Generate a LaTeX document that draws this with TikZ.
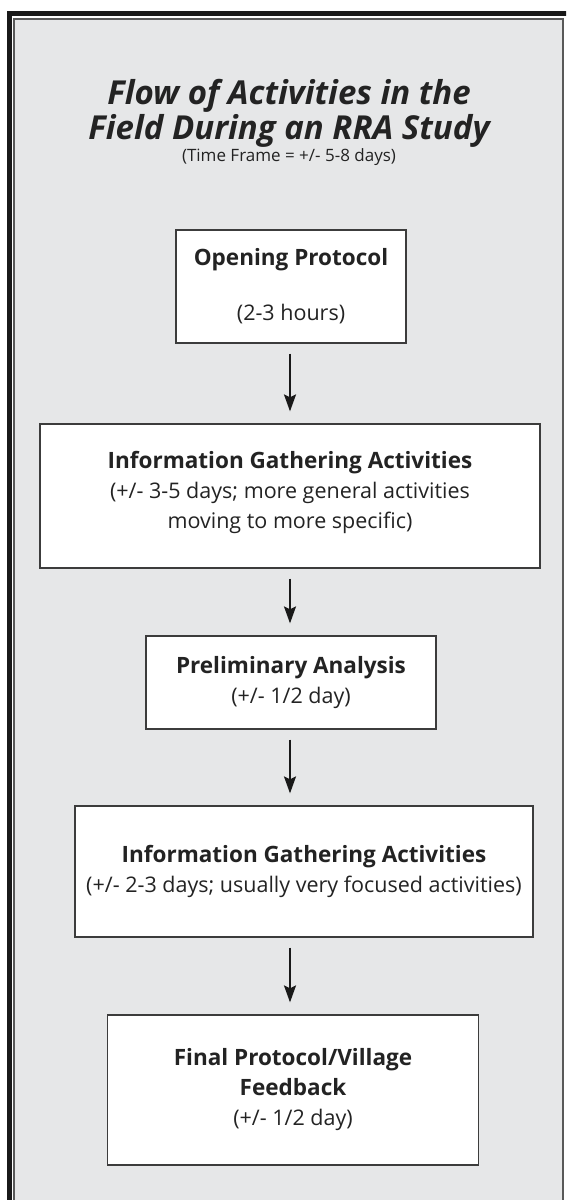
\documentclass[tikz,border=0pt]{standalone}
\usepackage{fontspec}
\setmainfont{Open Sans}
\usepackage{xcolor}
\usetikzlibrary{arrows.meta}
\definecolor{panelgray}{HTML}{E6E7E8}
\definecolor{boxline}{HTML}{3C3C3C}
\definecolor{inkgray}{HTML}{232323}
\newcommand\stagehead[1]{{\fontsize{22.5}{30}\selectfont\bfseries #1}}
\tikzset{%
  tipA/.tip={Stealth[length=17pt,width=12pt,inset=3pt]},
  stagebox/.style={draw=boxline, line width=1.2pt, fill=white, align=center,
    inner sep=0pt, text=inkgray, font=\fontsize{21.5}{30}\selectfont},
  flow/.style={line width=2.2pt, -tipA, shorten <=10pt, shorten >=12pt, draw=black!90}
}

\begin{document}
\begin{tikzpicture}[x=1pt,y=-1pt]
	\useasboundingbox (0,0) rectangle (566,1200);
	\clip (0,0) rectangle (566,1200);
	\fill[white] (0,0) rectangle (566,1200);
	% double frame, cut at right and bottom
	\draw[line width=5pt, draw=black!90] (9.5,1220) -- (9.5,13.5) -- (590,13.5);
	\draw[fill=panelgray, draw=black!65, line width=1.3pt] (14,1220) -- (14,19) -- (563,19) -- (563,1220);
	% title
	\node[font=\fontsize{33}{35}\selectfont\bfseries\itshape, align=center, inner sep=0pt, text=inkgray] (title) at (289,113.5) {Flow of Activities in the\\Field During an RRA Study};
	\node[font=\fontsize{17}{20}\selectfont, anchor=base, inner sep=0pt, text=inkgray] (frame) at (289,161) {(Time Frame = +/- 5-8 days)};
	% stages
	\node[stagebox, minimum width=230pt, minimum height=113pt] (opening) at (291,286.5) {\stagehead{Opening Protocol}\\[25pt](2-3 hours)};
	\node[stagebox, minimum width=500pt, minimum height=144pt] (gathera) at (290,496) {\stagehead{Information Gathering Activities}\\(+/- 3-5 days; more general activities\\moving to more specific)\rule[-12pt]{0pt}{12pt}};
	\node[stagebox, minimum width=290pt, minimum height=93pt] (prelim) at (291,682.5) {\stagehead{Preliminary Analysis}\\(+/- 1/2 day)};
	\node[stagebox, minimum width=458pt, minimum height=131pt] (gatherb) at (304,871.5) {\stagehead{Information Gathering Activities}\\(+/- 2-3 days; usually very focused activities)};
	\node[stagebox, minimum width=371pt, minimum height=150pt] (final) at (293,1090) {\stagehead{Final Protocol/Village}\\\stagehead{Feedback}\\(+/- 1/2 day)};
	% arrows
	\draw[flow] (opening.south -| gathera) -- (gathera);
	\draw[flow] (gathera) -- (gathera |- prelim.north);
	\draw[flow] (gathera |- prelim.south) -- (gathera |- gatherb.north);
	\draw[flow] (gathera |- gatherb.south) -- (gathera |- final.north);
\end{tikzpicture}
\end{document}
